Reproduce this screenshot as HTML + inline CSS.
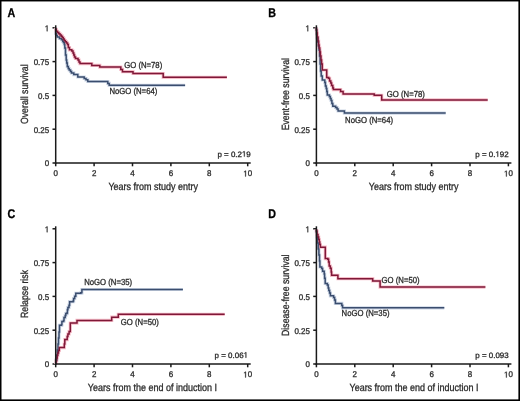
<!DOCTYPE html>
<html><head><meta charset="utf-8"><style>
html,body{margin:0;padding:0;background:#fff;}
body{width:520px;height:401px;overflow:hidden;}
svg{display:block;font-family:"Liberation Sans",sans-serif;filter:blur(0.4px);}
text{stroke:#2a2a2a;stroke-width:0.3px;text-rendering:geometricPrecision;}
</style></head><body>
<svg width="520" height="401" viewBox="0 0 520 401">
<rect x="0" y="0" width="520" height="401" fill="#fff"/>
<text x="0" y="0" transform="translate(7.6,17.4) scale(0.85,1)" font-weight="bold" font-size="12.6" fill="#000" style="stroke:#000;stroke-width:0.3px">A</text>
<text x="0" y="0" text-anchor="middle" transform="translate(28.1,94.2) rotate(-90) scale(0.84,1)" font-size="10.4" fill="#2a2a2a">Overall survival</text>
<text x="0" y="0" text-anchor="middle" transform="translate(153.2,190) scale(0.865,1)" font-size="10.4" fill="#2a2a2a">Years from study entry</text>
<line x1="52.5" y1="27.80" x2="55.7" y2="27.80" stroke="#1a1a1a" stroke-width="1.5"/>
<text x="0" y="0" text-anchor="end" transform="translate(49.20,31.25) scale(0.96,1)" font-size="8.3" fill="#2a2a2a"> </text><path d="M515 0V1237L197 1010V1180L530 1409H696V0Z" transform="translate(44.769,31.250) scale(0.003891,-0.004053)" fill="#2a2a2a" stroke="#2a2a2a" stroke-width="0.3" vector-effect="non-scaling-stroke"/>
<line x1="52.5" y1="61.60" x2="55.7" y2="61.60" stroke="#1a1a1a" stroke-width="1.5"/>
<text x="0" y="0" text-anchor="end" transform="translate(49.20,65.05) scale(0.96,1)" font-size="8.3" fill="#2a2a2a">0.75</text>
<line x1="52.5" y1="95.40" x2="55.7" y2="95.40" stroke="#1a1a1a" stroke-width="1.5"/>
<text x="0" y="0" text-anchor="end" transform="translate(49.20,98.85) scale(0.96,1)" font-size="8.3" fill="#2a2a2a">0.5</text>
<line x1="52.5" y1="129.20" x2="55.7" y2="129.20" stroke="#1a1a1a" stroke-width="1.5"/>
<text x="0" y="0" text-anchor="end" transform="translate(49.20,132.65) scale(0.96,1)" font-size="8.3" fill="#2a2a2a">0.25</text>
<line x1="52.5" y1="163.00" x2="55.7" y2="163.00" stroke="#1a1a1a" stroke-width="1.5"/>
<text x="0" y="0" text-anchor="end" transform="translate(49.20,166.45) scale(0.96,1)" font-size="8.3" fill="#2a2a2a">0</text>
<line x1="55.70" y1="163.0" x2="55.70" y2="166.3" stroke="#1a1a1a" stroke-width="1.5"/>
<text x="0" y="0" text-anchor="middle" transform="translate(55.70,176.45) scale(0.96,1)" font-size="8.3" fill="#2a2a2a">0</text>
<line x1="94.10" y1="163.0" x2="94.10" y2="166.3" stroke="#1a1a1a" stroke-width="1.5"/>
<text x="0" y="0" text-anchor="middle" transform="translate(94.10,176.45) scale(0.96,1)" font-size="8.3" fill="#2a2a2a">2</text>
<line x1="132.50" y1="163.0" x2="132.50" y2="166.3" stroke="#1a1a1a" stroke-width="1.5"/>
<text x="0" y="0" text-anchor="middle" transform="translate(132.50,176.45) scale(0.96,1)" font-size="8.3" fill="#2a2a2a">4</text>
<line x1="170.90" y1="163.0" x2="170.90" y2="166.3" stroke="#1a1a1a" stroke-width="1.5"/>
<text x="0" y="0" text-anchor="middle" transform="translate(170.90,176.45) scale(0.96,1)" font-size="8.3" fill="#2a2a2a">6</text>
<line x1="209.30" y1="163.0" x2="209.30" y2="166.3" stroke="#1a1a1a" stroke-width="1.5"/>
<text x="0" y="0" text-anchor="middle" transform="translate(209.30,176.45) scale(0.96,1)" font-size="8.3" fill="#2a2a2a">8</text>
<line x1="247.70" y1="163.0" x2="247.70" y2="166.3" stroke="#1a1a1a" stroke-width="1.5"/>
<text x="0" y="0" text-anchor="middle" transform="translate(247.70,176.45) scale(0.96,1)" font-size="8.3" fill="#2a2a2a"> 0</text><path d="M515 0V1237L197 1010V1180L530 1409H696V0Z" transform="translate(243.269,176.450) scale(0.003891,-0.004053)" fill="#2a2a2a" stroke="#2a2a2a" stroke-width="0.3" vector-effect="non-scaling-stroke"/>
<path d="M55.7,27.8 V33.5 H56.5 V35.5 H57.3 V37 H59.5 V38.5 H61.5 V39.7 H62.8 V41.5 H63.6 V42.5 H64.3 V44.5 H64.8 V48 H65.5 V55 H66.2 V60 H66.7 V63 H67.3 V66.5 H68.3 V68.5 H69.2 V70 H70.5 V71.5 H71.5 V72.9 H73.8 V74.6 H77.8 V77 H84.2 V78.5 H86 V79.8 H87.8 V81.5 H107.8 V83.4 H109.2 V85.3 H185.1" fill="none" stroke="#ced7e6" stroke-width="3.2" stroke-linejoin="miter"/>
<path d="M55.7,27.8 V29.5 H56.3 V31.3 H57.5 V32.5 H58.8 V33.8 H60 V35 H61.2 V36.2 H62.3 V37.5 H63.3 V39 H64.2 V40.5 H65.3 V41.8 H66.4 V43 H67.5 V44.6 H68.3 V47.6 H69.5 V49.8 H71.8 V51 H73 V53 H73.8 V55 H74.5 V57 H75.5 V58.5 H78 V60 H79 V62 H80 V63.6 H91.8 V65.4 H99.8 V67.1 H120.8 V69.4 H122.5 V71.7 H133 V73.5 H163.2 V77.3 H226.9" fill="none" stroke="#f7bfca" stroke-width="3.2" stroke-linejoin="miter"/>
<path d="M55.7,27.8 V33.5 H56.5 V35.5 H57.3 V37 H59.5 V38.5 H61.5 V39.7 H62.8 V41.5 H63.6 V42.5 H64.3 V44.5 H64.8 V48 H65.5 V55 H66.2 V60 H66.7 V63 H67.3 V66.5 H68.3 V68.5 H69.2 V70 H70.5 V71.5 H71.5 V72.9 H73.8 V74.6 H77.8 V77 H84.2 V78.5 H86 V79.8 H87.8 V81.5 H107.8 V83.4 H109.2 V85.3 H185.1" fill="none" stroke="#3a4d6e" stroke-width="1.5" stroke-linejoin="miter"/>
<path d="M55.7,27.8 V29.5 H56.3 V31.3 H57.5 V32.5 H58.8 V33.8 H60 V35 H61.2 V36.2 H62.3 V37.5 H63.3 V39 H64.2 V40.5 H65.3 V41.8 H66.4 V43 H67.5 V44.6 H68.3 V47.6 H69.5 V49.8 H71.8 V51 H73 V53 H73.8 V55 H74.5 V57 H75.5 V58.5 H78 V60 H79 V62 H80 V63.6 H91.8 V65.4 H99.8 V67.1 H120.8 V69.4 H122.5 V71.7 H133 V73.5 H163.2 V77.3 H226.9" fill="none" stroke="#7f1838" stroke-width="1.5" stroke-linejoin="miter"/>
<line x1="55.7" y1="25.3" x2="55.7" y2="163.75" stroke="#1a1a1a" stroke-width="1.5"/>
<line x1="54.95" y1="163.0" x2="250.7" y2="163.0" stroke="#1a1a1a" stroke-width="1.5"/>
<text x="0" y="0" transform="translate(124.20,67.80) scale(0.89,1)" font-size="8.7" fill="#2a2a2a">GO (N=78)</text>
<text x="0" y="0" transform="translate(109.40,93.90) scale(0.89,1)" font-size="8.7" fill="#2a2a2a">NoGO (N=64)</text>
<text x="0" y="0" transform="translate(217.40,156.60) scale(1.02,1)" font-size="7.8" fill="#2a2a2a">p = 0.2 9</text><path d="M515 0V1237L197 1010V1180L530 1409H696V0Z" transform="translate(241.952,156.600) scale(0.003885,-0.003809)" fill="#2a2a2a" stroke="#2a2a2a" stroke-width="0.3" vector-effect="non-scaling-stroke"/>
<text x="0" y="0" transform="translate(268.3,17.4) scale(0.85,1)" font-weight="bold" font-size="12.6" fill="#000" style="stroke:#000;stroke-width:0.3px">B</text>
<text x="0" y="0" text-anchor="middle" transform="translate(288.8,94.2) rotate(-90) scale(0.84,1)" font-size="10.4" fill="#2a2a2a">Event-free survival</text>
<text x="0" y="0" text-anchor="middle" transform="translate(413.65,190) scale(0.865,1)" font-size="10.4" fill="#2a2a2a">Years from study entry</text>
<line x1="313.2" y1="27.80" x2="316.4" y2="27.80" stroke="#1a1a1a" stroke-width="1.5"/>
<text x="0" y="0" text-anchor="end" transform="translate(309.90,31.25) scale(0.96,1)" font-size="8.3" fill="#2a2a2a"> </text><path d="M515 0V1237L197 1010V1180L530 1409H696V0Z" transform="translate(305.469,31.250) scale(0.003891,-0.004053)" fill="#2a2a2a" stroke="#2a2a2a" stroke-width="0.3" vector-effect="non-scaling-stroke"/>
<line x1="313.2" y1="61.60" x2="316.4" y2="61.60" stroke="#1a1a1a" stroke-width="1.5"/>
<text x="0" y="0" text-anchor="end" transform="translate(309.90,65.05) scale(0.96,1)" font-size="8.3" fill="#2a2a2a">0.75</text>
<line x1="313.2" y1="95.40" x2="316.4" y2="95.40" stroke="#1a1a1a" stroke-width="1.5"/>
<text x="0" y="0" text-anchor="end" transform="translate(309.90,98.85) scale(0.96,1)" font-size="8.3" fill="#2a2a2a">0.5</text>
<line x1="313.2" y1="129.20" x2="316.4" y2="129.20" stroke="#1a1a1a" stroke-width="1.5"/>
<text x="0" y="0" text-anchor="end" transform="translate(309.90,132.65) scale(0.96,1)" font-size="8.3" fill="#2a2a2a">0.25</text>
<line x1="313.2" y1="163.00" x2="316.4" y2="163.00" stroke="#1a1a1a" stroke-width="1.5"/>
<text x="0" y="0" text-anchor="end" transform="translate(309.90,166.45) scale(0.96,1)" font-size="8.3" fill="#2a2a2a">0</text>
<line x1="316.40" y1="163.0" x2="316.40" y2="166.3" stroke="#1a1a1a" stroke-width="1.5"/>
<text x="0" y="0" text-anchor="middle" transform="translate(316.40,176.45) scale(0.96,1)" font-size="8.3" fill="#2a2a2a">0</text>
<line x1="354.80" y1="163.0" x2="354.80" y2="166.3" stroke="#1a1a1a" stroke-width="1.5"/>
<text x="0" y="0" text-anchor="middle" transform="translate(354.80,176.45) scale(0.96,1)" font-size="8.3" fill="#2a2a2a">2</text>
<line x1="393.20" y1="163.0" x2="393.20" y2="166.3" stroke="#1a1a1a" stroke-width="1.5"/>
<text x="0" y="0" text-anchor="middle" transform="translate(393.20,176.45) scale(0.96,1)" font-size="8.3" fill="#2a2a2a">4</text>
<line x1="431.60" y1="163.0" x2="431.60" y2="166.3" stroke="#1a1a1a" stroke-width="1.5"/>
<text x="0" y="0" text-anchor="middle" transform="translate(431.60,176.45) scale(0.96,1)" font-size="8.3" fill="#2a2a2a">6</text>
<line x1="470.00" y1="163.0" x2="470.00" y2="166.3" stroke="#1a1a1a" stroke-width="1.5"/>
<text x="0" y="0" text-anchor="middle" transform="translate(470.00,176.45) scale(0.96,1)" font-size="8.3" fill="#2a2a2a">8</text>
<line x1="508.40" y1="163.0" x2="508.40" y2="166.3" stroke="#1a1a1a" stroke-width="1.5"/>
<text x="0" y="0" text-anchor="middle" transform="translate(508.40,176.45) scale(0.96,1)" font-size="8.3" fill="#2a2a2a"> 0</text><path d="M515 0V1237L197 1010V1180L530 1409H696V0Z" transform="translate(503.969,176.450) scale(0.003891,-0.004053)" fill="#2a2a2a" stroke="#2a2a2a" stroke-width="0.3" vector-effect="non-scaling-stroke"/>
<path d="M316.4,27.5 V30 H316.6 V34 H317.2 V38 H317.8 V42 H318.4 V46 H319 V50 H319.6 V56 H320.1 V64 H320.6 V71 H321.2 V76 H322.3 V80 H324.8 V82.5 H325.4 V86 H326.2 V88.5 H326.8 V91.5 H327.3 V95 H329.4 V96.5 H330.3 V98.6 H331.1 V100.5 H331.9 V103.5 H332.8 V106.2 H335.6 V107.5 H337 V109 H338.1 V111 H344.4 V113.1 H445.7" fill="none" stroke="#ced7e6" stroke-width="3.2" stroke-linejoin="miter"/>
<path d="M316.4,27.5 V30 H316.8 V33 H317.3 V37 H318 V41 H318.6 V45 H319.1 V48 H319.8 V52 H320.4 V56 H321 V60 H321.6 V64 H322.3 V70 H326.7 V77.4 H328.5 V78.3 H329.6 V81 H330.8 V83 H331.6 V85.5 H332.8 V88 H333.4 V89.6 H340.6 V91.6 H343.1 V94 H374.2 V95.3 H381.7 V99.9 H487.7" fill="none" stroke="#f7bfca" stroke-width="3.2" stroke-linejoin="miter"/>
<path d="M316.4,27.5 V30 H316.6 V34 H317.2 V38 H317.8 V42 H318.4 V46 H319 V50 H319.6 V56 H320.1 V64 H320.6 V71 H321.2 V76 H322.3 V80 H324.8 V82.5 H325.4 V86 H326.2 V88.5 H326.8 V91.5 H327.3 V95 H329.4 V96.5 H330.3 V98.6 H331.1 V100.5 H331.9 V103.5 H332.8 V106.2 H335.6 V107.5 H337 V109 H338.1 V111 H344.4 V113.1 H445.7" fill="none" stroke="#3a4d6e" stroke-width="1.5" stroke-linejoin="miter"/>
<path d="M316.4,27.5 V30 H316.8 V33 H317.3 V37 H318 V41 H318.6 V45 H319.1 V48 H319.8 V52 H320.4 V56 H321 V60 H321.6 V64 H322.3 V70 H326.7 V77.4 H328.5 V78.3 H329.6 V81 H330.8 V83 H331.6 V85.5 H332.8 V88 H333.4 V89.6 H340.6 V91.6 H343.1 V94 H374.2 V95.3 H381.7 V99.9 H487.7" fill="none" stroke="#7f1838" stroke-width="1.5" stroke-linejoin="miter"/>
<line x1="316.4" y1="25.3" x2="316.4" y2="163.75" stroke="#1a1a1a" stroke-width="1.5"/>
<line x1="315.65" y1="163.0" x2="511.4" y2="163.0" stroke="#1a1a1a" stroke-width="1.5"/>
<text x="0" y="0" transform="translate(386.80,96.50) scale(0.89,1)" font-size="8.7" fill="#2a2a2a">GO (N=78)</text>
<text x="0" y="0" transform="translate(345.10,122.60) scale(0.89,1)" font-size="8.7" fill="#2a2a2a">NoGO (N=64)</text>
<text x="0" y="0" transform="translate(475.30,156.80) scale(1.02,1)" font-size="7.8" fill="#2a2a2a">p = 0. 92</text><path d="M515 0V1237L197 1010V1180L530 1409H696V0Z" transform="translate(495.427,156.800) scale(0.003885,-0.003809)" fill="#2a2a2a" stroke="#2a2a2a" stroke-width="0.3" vector-effect="non-scaling-stroke"/>
<text x="0" y="0" transform="translate(7.6,218.4) scale(0.85,1)" font-weight="bold" font-size="12.6" fill="#000" style="stroke:#000;stroke-width:0.3px">C</text>
<text x="0" y="0" text-anchor="middle" transform="translate(28.1,294.0) rotate(-90) scale(0.84,1)" font-size="10.4" fill="#2a2a2a">Relapse risk</text>
<text x="0" y="0" text-anchor="middle" transform="translate(152.4,391.0) scale(0.865,1)" font-size="10.4" fill="#2a2a2a">Years from the end of induction I</text>
<line x1="52.5" y1="228.80" x2="55.7" y2="228.80" stroke="#1a1a1a" stroke-width="1.5"/>
<text x="0" y="0" text-anchor="end" transform="translate(49.20,232.25) scale(0.96,1)" font-size="8.3" fill="#2a2a2a"> </text><path d="M515 0V1237L197 1010V1180L530 1409H696V0Z" transform="translate(44.769,232.250) scale(0.003891,-0.004053)" fill="#2a2a2a" stroke="#2a2a2a" stroke-width="0.3" vector-effect="non-scaling-stroke"/>
<line x1="52.5" y1="262.60" x2="55.7" y2="262.60" stroke="#1a1a1a" stroke-width="1.5"/>
<text x="0" y="0" text-anchor="end" transform="translate(49.20,266.05) scale(0.96,1)" font-size="8.3" fill="#2a2a2a">0.75</text>
<line x1="52.5" y1="296.40" x2="55.7" y2="296.40" stroke="#1a1a1a" stroke-width="1.5"/>
<text x="0" y="0" text-anchor="end" transform="translate(49.20,299.85) scale(0.96,1)" font-size="8.3" fill="#2a2a2a">0.5</text>
<line x1="52.5" y1="330.20" x2="55.7" y2="330.20" stroke="#1a1a1a" stroke-width="1.5"/>
<text x="0" y="0" text-anchor="end" transform="translate(49.20,333.65) scale(0.96,1)" font-size="8.3" fill="#2a2a2a">0.25</text>
<line x1="52.5" y1="364.00" x2="55.7" y2="364.00" stroke="#1a1a1a" stroke-width="1.5"/>
<text x="0" y="0" text-anchor="end" transform="translate(49.20,367.45) scale(0.96,1)" font-size="8.3" fill="#2a2a2a">0</text>
<line x1="55.70" y1="364.0" x2="55.70" y2="367.3" stroke="#1a1a1a" stroke-width="1.5"/>
<text x="0" y="0" text-anchor="middle" transform="translate(55.70,377.45) scale(0.96,1)" font-size="8.3" fill="#2a2a2a">0</text>
<line x1="94.10" y1="364.0" x2="94.10" y2="367.3" stroke="#1a1a1a" stroke-width="1.5"/>
<text x="0" y="0" text-anchor="middle" transform="translate(94.10,377.45) scale(0.96,1)" font-size="8.3" fill="#2a2a2a">2</text>
<line x1="132.50" y1="364.0" x2="132.50" y2="367.3" stroke="#1a1a1a" stroke-width="1.5"/>
<text x="0" y="0" text-anchor="middle" transform="translate(132.50,377.45) scale(0.96,1)" font-size="8.3" fill="#2a2a2a">4</text>
<line x1="170.90" y1="364.0" x2="170.90" y2="367.3" stroke="#1a1a1a" stroke-width="1.5"/>
<text x="0" y="0" text-anchor="middle" transform="translate(170.90,377.45) scale(0.96,1)" font-size="8.3" fill="#2a2a2a">6</text>
<line x1="209.30" y1="364.0" x2="209.30" y2="367.3" stroke="#1a1a1a" stroke-width="1.5"/>
<text x="0" y="0" text-anchor="middle" transform="translate(209.30,377.45) scale(0.96,1)" font-size="8.3" fill="#2a2a2a">8</text>
<line x1="247.70" y1="364.0" x2="247.70" y2="367.3" stroke="#1a1a1a" stroke-width="1.5"/>
<text x="0" y="0" text-anchor="middle" transform="translate(247.70,377.45) scale(0.96,1)" font-size="8.3" fill="#2a2a2a"> 0</text><path d="M515 0V1237L197 1010V1180L530 1409H696V0Z" transform="translate(243.269,377.450) scale(0.003891,-0.004053)" fill="#2a2a2a" stroke="#2a2a2a" stroke-width="0.3" vector-effect="non-scaling-stroke"/>
<path d="M56,364.1 V360 H56.8 V355 H57.4 V350 H58 V344 H58.5 V338 H59 V332 H59.5 V325.3 H61.4 V324.8 H61.9 V321.4 H63.5 V320.8 H64 V317.6 H65.2 V315.5 H65.8 V313.6 H66.9 V313 H67.4 V309.7 H67.9 V307.5 H69 V305.2 H69.6 V301.7 H73.1 V301.1 H73.6 V298.5 H74.7 V296.2 H75.8 V293.3 H80.8 V292.8 H81.9 V289.5 H182.9" fill="none" stroke="#ced7e6" stroke-width="3.2" stroke-linejoin="miter"/>
<path d="M56,364.1 V361 H56.6 V358 H57.2 V355.5 H57.8 V353 H58.5 V350.5 H59.3 V347.6 H64.3 V344 H64.8 V339.6 H67.2 V336.5 H67.9 V334 H69.1 V331.5 H70.3 V323.1 H77 V320.4 H111.7 V317.2 H118.3 V314.3 H224.7" fill="none" stroke="#f7bfca" stroke-width="3.2" stroke-linejoin="miter"/>
<path d="M56,364.1 V360 H56.8 V355 H57.4 V350 H58 V344 H58.5 V338 H59 V332 H59.5 V325.3 H61.4 V324.8 H61.9 V321.4 H63.5 V320.8 H64 V317.6 H65.2 V315.5 H65.8 V313.6 H66.9 V313 H67.4 V309.7 H67.9 V307.5 H69 V305.2 H69.6 V301.7 H73.1 V301.1 H73.6 V298.5 H74.7 V296.2 H75.8 V293.3 H80.8 V292.8 H81.9 V289.5 H182.9" fill="none" stroke="#3a4d6e" stroke-width="1.5" stroke-linejoin="miter"/>
<path d="M56,364.1 V361 H56.6 V358 H57.2 V355.5 H57.8 V353 H58.5 V350.5 H59.3 V347.6 H64.3 V344 H64.8 V339.6 H67.2 V336.5 H67.9 V334 H69.1 V331.5 H70.3 V323.1 H77 V320.4 H111.7 V317.2 H118.3 V314.3 H224.7" fill="none" stroke="#7f1838" stroke-width="1.5" stroke-linejoin="miter"/>
<line x1="55.7" y1="226.3" x2="55.7" y2="364.75" stroke="#1a1a1a" stroke-width="1.5"/>
<line x1="54.95" y1="364.0" x2="250.7" y2="364.0" stroke="#1a1a1a" stroke-width="1.5"/>
<text x="0" y="0" transform="translate(84.20,285.40) scale(0.89,1)" font-size="8.7" fill="#2a2a2a">NoGO (N=35)</text>
<text x="0" y="0" transform="translate(120.80,324.70) scale(0.89,1)" font-size="8.7" fill="#2a2a2a">GO (N=50)</text>
<text x="0" y="0" transform="translate(214.60,357.70) scale(1.02,1)" font-size="7.8" fill="#2a2a2a">p = 0.06 </text><path d="M515 0V1237L197 1010V1180L530 1409H696V0Z" transform="translate(243.576,357.700) scale(0.003885,-0.003809)" fill="#2a2a2a" stroke="#2a2a2a" stroke-width="0.3" vector-effect="non-scaling-stroke"/>
<text x="0" y="0" transform="translate(268.3,218.4) scale(0.85,1)" font-weight="bold" font-size="12.6" fill="#000" style="stroke:#000;stroke-width:0.3px">D</text>
<text x="0" y="0" text-anchor="middle" transform="translate(288.8,295.2) rotate(-90) scale(0.84,1)" font-size="10.4" fill="#2a2a2a">Disease-free survival</text>
<text x="0" y="0" text-anchor="middle" transform="translate(414.0,391.0) scale(0.865,1)" font-size="10.4" fill="#2a2a2a">Years from the end of induction I</text>
<line x1="313.2" y1="228.80" x2="316.4" y2="228.80" stroke="#1a1a1a" stroke-width="1.5"/>
<text x="0" y="0" text-anchor="end" transform="translate(309.90,232.25) scale(0.96,1)" font-size="8.3" fill="#2a2a2a"> </text><path d="M515 0V1237L197 1010V1180L530 1409H696V0Z" transform="translate(305.469,232.250) scale(0.003891,-0.004053)" fill="#2a2a2a" stroke="#2a2a2a" stroke-width="0.3" vector-effect="non-scaling-stroke"/>
<line x1="313.2" y1="262.60" x2="316.4" y2="262.60" stroke="#1a1a1a" stroke-width="1.5"/>
<text x="0" y="0" text-anchor="end" transform="translate(309.90,266.05) scale(0.96,1)" font-size="8.3" fill="#2a2a2a">0.75</text>
<line x1="313.2" y1="296.40" x2="316.4" y2="296.40" stroke="#1a1a1a" stroke-width="1.5"/>
<text x="0" y="0" text-anchor="end" transform="translate(309.90,299.85) scale(0.96,1)" font-size="8.3" fill="#2a2a2a">0.5</text>
<line x1="313.2" y1="330.20" x2="316.4" y2="330.20" stroke="#1a1a1a" stroke-width="1.5"/>
<text x="0" y="0" text-anchor="end" transform="translate(309.90,333.65) scale(0.96,1)" font-size="8.3" fill="#2a2a2a">0.25</text>
<line x1="313.2" y1="364.00" x2="316.4" y2="364.00" stroke="#1a1a1a" stroke-width="1.5"/>
<text x="0" y="0" text-anchor="end" transform="translate(309.90,367.45) scale(0.96,1)" font-size="8.3" fill="#2a2a2a">0</text>
<line x1="316.40" y1="364.0" x2="316.40" y2="367.3" stroke="#1a1a1a" stroke-width="1.5"/>
<text x="0" y="0" text-anchor="middle" transform="translate(316.40,377.45) scale(0.96,1)" font-size="8.3" fill="#2a2a2a">0</text>
<line x1="354.80" y1="364.0" x2="354.80" y2="367.3" stroke="#1a1a1a" stroke-width="1.5"/>
<text x="0" y="0" text-anchor="middle" transform="translate(354.80,377.45) scale(0.96,1)" font-size="8.3" fill="#2a2a2a">2</text>
<line x1="393.20" y1="364.0" x2="393.20" y2="367.3" stroke="#1a1a1a" stroke-width="1.5"/>
<text x="0" y="0" text-anchor="middle" transform="translate(393.20,377.45) scale(0.96,1)" font-size="8.3" fill="#2a2a2a">4</text>
<line x1="431.60" y1="364.0" x2="431.60" y2="367.3" stroke="#1a1a1a" stroke-width="1.5"/>
<text x="0" y="0" text-anchor="middle" transform="translate(431.60,377.45) scale(0.96,1)" font-size="8.3" fill="#2a2a2a">6</text>
<line x1="470.00" y1="364.0" x2="470.00" y2="367.3" stroke="#1a1a1a" stroke-width="1.5"/>
<text x="0" y="0" text-anchor="middle" transform="translate(470.00,377.45) scale(0.96,1)" font-size="8.3" fill="#2a2a2a">8</text>
<line x1="508.40" y1="364.0" x2="508.40" y2="367.3" stroke="#1a1a1a" stroke-width="1.5"/>
<text x="0" y="0" text-anchor="middle" transform="translate(508.40,377.45) scale(0.96,1)" font-size="8.3" fill="#2a2a2a"> 0</text><path d="M515 0V1237L197 1010V1180L530 1409H696V0Z" transform="translate(503.969,377.450) scale(0.003891,-0.004053)" fill="#2a2a2a" stroke="#2a2a2a" stroke-width="0.3" vector-effect="non-scaling-stroke"/>
<path d="M316.4,229 V232 H316.8 V237 H317.4 V243 H318.2 V249 H318.9 V255 H319.5 V261 H319.9 V267 H321.7 V268.5 H322.6 V271.3 H324.2 V274 H324.6 V278.2 H325.2 V283.5 H327.3 V285 H328.2 V288 H328.8 V290.5 H329.6 V293 H330.4 V295.8 H333.6 V297.5 H334.6 V300 H335.4 V303.4 H341.8 V305.5 H342.6 V307.8 H444.3" fill="none" stroke="#ced7e6" stroke-width="3.2" stroke-linejoin="miter"/>
<path d="M316.4,229 V231 H317 V234.5 H318 V237 H318.7 V239.5 H319.3 V242 H319.8 V244.5 H320.4 V247.2 H325.3 V258.6 H327.8 V259.2 H328.6 V262 H329.2 V266 H330.3 V268.2 H331.2 V272 H331.6 V275.3 H337.9 V278.7 H372.7 V281 H380.1 V287.1 H485.4" fill="none" stroke="#f7bfca" stroke-width="3.2" stroke-linejoin="miter"/>
<path d="M316.4,229 V232 H316.8 V237 H317.4 V243 H318.2 V249 H318.9 V255 H319.5 V261 H319.9 V267 H321.7 V268.5 H322.6 V271.3 H324.2 V274 H324.6 V278.2 H325.2 V283.5 H327.3 V285 H328.2 V288 H328.8 V290.5 H329.6 V293 H330.4 V295.8 H333.6 V297.5 H334.6 V300 H335.4 V303.4 H341.8 V305.5 H342.6 V307.8 H444.3" fill="none" stroke="#3a4d6e" stroke-width="1.5" stroke-linejoin="miter"/>
<path d="M316.4,229 V231 H317 V234.5 H318 V237 H318.7 V239.5 H319.3 V242 H319.8 V244.5 H320.4 V247.2 H325.3 V258.6 H327.8 V259.2 H328.6 V262 H329.2 V266 H330.3 V268.2 H331.2 V272 H331.6 V275.3 H337.9 V278.7 H372.7 V281 H380.1 V287.1 H485.4" fill="none" stroke="#7f1838" stroke-width="1.5" stroke-linejoin="miter"/>
<line x1="316.4" y1="226.3" x2="316.4" y2="364.75" stroke="#1a1a1a" stroke-width="1.5"/>
<line x1="315.65" y1="364.0" x2="511.4" y2="364.0" stroke="#1a1a1a" stroke-width="1.5"/>
<text x="0" y="0" transform="translate(381.60,283.20) scale(0.89,1)" font-size="8.7" fill="#2a2a2a">GO (N=50)</text>
<text x="0" y="0" transform="translate(341.60,316.10) scale(0.89,1)" font-size="8.7" fill="#2a2a2a">NoGO (N=35)</text>
<text x="0" y="0" transform="translate(475.30,357.70) scale(1.02,1)" font-size="7.8" fill="#2a2a2a">p = 0.093</text>
<rect x="0" y="0" width="520" height="1.45" fill="#000"/>
<rect x="0" y="0" width="1.5" height="401" fill="#000"/>
<rect x="518.4" y="0" width="1.6" height="401" fill="#000"/>
<rect x="0" y="399.4" width="520" height="1.6" fill="#000"/>
</svg>
</body></html>
